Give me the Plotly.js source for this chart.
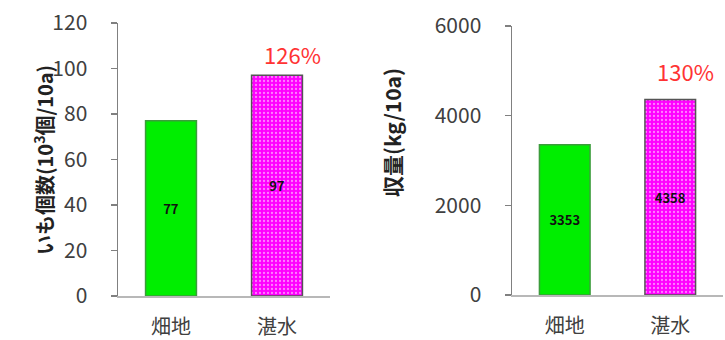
<!DOCTYPE html>
<html>
<head>
<meta charset="utf-8">
<script src="https://cdn.plot.ly/plotly-3.0.1.min.js"></script>
<style>
  html, body { margin: 0; padding: 0; background: #fff; }
  #chart { width: 725px; height: 340px; }
</style>
</head>
<body>
<div id="chart"></div>
<script>
// Field type categories
const categories = ['畑地', '湛水'];
// Tuber count (10^3 per 10a)
const tuberCount = [77, 97];
// Yield (kg/10a)
const yieldKg = [3353, 4358];
// Axis tick values
const countTicks = [0, 20, 40, 60, 80, 100, 120];
const yieldTicks = [0, 2000, 4000, 6000];

const FONT = '"Noto Sans CJK JP", "Noto Sans", sans-serif';
const green = '#00ee00';
const magenta = '#ff00ff';

function pct(vals) {
  return Math.round(vals[1] / vals[0] * 100) + '%';
}

function barTrace(vals, xa, ya) {
  return {
    type: 'bar',
    x: categories,
    y: vals,
    xaxis: xa,
    yaxis: ya,
    width: 0.48,
    text: vals.map(String),
    textposition: 'inside',
    insidetextanchor: 'middle',
    textangle: 0,
    textfont: { family: FONT, size: 13, color: '#111', weight: 'bold' },
    marker: {
      color: [green, magenta],
      line: { color: ['#3c9c3c', '#555555'], width: 1.5 },
      pattern: {
        shape: ['', '.'],
        fillmode: 'overlay',
        fgcolor: '#ffffff',
        size: 4,
        solidity: 0.25
      }
    },
    hoverinfo: 'skip',
    showlegend: false
  };
}

const yBase = {
  showline: true,
  linecolor: '#808080',
  linewidth: 1.5,
  ticks: 'outside',
  ticklen: 6,
  tickwidth: 1.5,
  tickcolor: '#808080',
  showgrid: false,
  zeroline: false,
  tickfont: { family: FONT, size: 21, color: '#404040' },
  ticklabelstandoff: 19,
  fixedrange: true
};
const xBase = {
  type: 'category',
  range: [-0.5, 1.5],
  showline: true,
  linecolor: '#b8b8b8',
  linewidth: 2,
  ticks: '',
  showgrid: false,
  zeroline: false,
  tickfont: { family: FONT, size: 20, color: '#404040' },
  ticklabelstandoff: 12,
  fixedrange: true
};

const layout = {
  width: 725,
  height: 340,
  margin: { l: 0, r: 0, t: 0, b: 0 },
  paper_bgcolor: '#ffffff',
  plot_bgcolor: '#ffffff',
  xaxis: Object.assign({}, xBase, { domain: [118 / 725, 330 / 725], anchor: 'y' }),
  yaxis: Object.assign({}, yBase, {
    domain: [(340 - 296) / 340, (340 - 23) / 340],
    range: [0, 120], tickvals: countTicks, anchor: 'x'
  }),
  xaxis2: Object.assign({}, xBase, { domain: [512 / 725, 723 / 725], anchor: 'y2' }),
  yaxis2: Object.assign({}, yBase, {
    domain: [(340 - 295) / 340, (340 - 26) / 340],
    range: [0, 6000], tickvals: yieldTicks, anchor: 'x2'
  }),
  annotations: [
    {
      text: 'いも個数(10<sup>3</sup>個/10a)',
      xref: 'paper', yref: 'paper',
      x: 27 / 725, y: (340 - 160) / 340,
      textangle: -90, showarrow: false,
      font: { family: FONT, size: 20, color: '#222', weight: 'bold' }
    },
    {
      text: '収量(kg/10a)',
      xref: 'paper', yref: 'paper',
      x: 392 / 725, y: (340 - 132) / 340,
      textangle: -90, showarrow: false,
      font: { family: FONT, size: 21, color: '#222', weight: 'bold' }
    },
    {
      text: pct(tuberCount),
      xref: 'x', yref: 'y',
      x: categories[1], y: tuberCount[1],
      yanchor: 'bottom', xshift: 15, yshift: 3,
      showarrow: false,
      font: { family: FONT, size: 22, color: '#ff3333' }
    },
    {
      text: pct(yieldKg),
      xref: 'x2', yref: 'y2',
      x: categories[1], y: yieldKg[1],
      yanchor: 'bottom', xshift: 15, yshift: 11,
      showarrow: false,
      font: { family: FONT, size: 22, color: '#ff3333' }
    }
  ]
};

Plotly.newPlot('chart', [
  barTrace(tuberCount, 'x', 'y'),
  barTrace(yieldKg, 'x2', 'y2')
], layout, { staticPlot: true, displayModeBar: false });
</script>
</body>
</html>
